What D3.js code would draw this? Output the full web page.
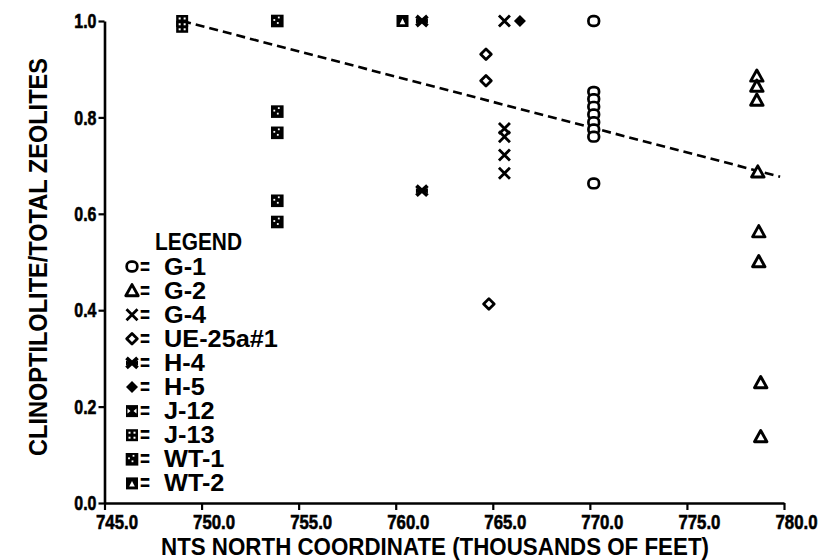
<!DOCTYPE html>
<html>
<head>
<meta charset="utf-8">
<script src="https://cdn.jsdelivr.net/npm/d3@7"></script>
<style>
  html, body { margin: 0; padding: 0; background: #fff; }
  svg { display: block; }
  .lbl { font-family: "Liberation Sans", Arial, Helvetica, sans-serif; font-weight: bold; fill: #000; }
</style>
</head>
<body>
<svg id="chart" width="820" height="560"></svg>
<script>
// ---- Data ----
const xTicks = [745, 750, 755, 760, 765, 770, 775, 780];
const yTicks = [0.0, 0.2, 0.4, 0.6, 0.8, 1.0];

const g1    = [[770.2, 1.0], [770.2, 0.853], [770.2, 0.838], [770.2, 0.822], [770.2, 0.806], [770.2, 0.790], [770.2, 0.775], [770.2, 0.760], [770.2, 0.663]];
const g2    = [[778.6, 0.886], [778.6, 0.865], [778.6, 0.836], [778.65, 0.687], [778.7, 0.563], [778.7, 0.501], [778.8, 0.250], [778.8, 0.138]];
const g4    = [[765.6, 1.0], [765.6, 0.777], [765.6, 0.760], [765.6, 0.722], [765.6, 0.684]];
const ue25  = [[764.65, 0.931], [764.65, 0.876], [764.8, 0.413]];
const h4    = [[761.35, 1.0], [761.35, 0.648]];
const h5    = [[766.4, 1.0]];
const j12   = [];
const j13   = [[749.0, 1.0], [749.0, 0.988]];
const wt1   = [[753.9, 1.0], [753.9, 0.812], [753.9, 0.768], [753.9, 0.627], [753.9, 0.583]];
const wt2   = [[760.35, 1.0]];

const trendX = [749.0, 779.8];
const trendY = [1.0, 0.677];

const legendNames = ["G-1", "G-2", "G-4", "UE-25a#1", "H-4", "H-5", "J-12", "J-13", "WT-1", "WT-2"];
const legendKinds = ["circle", "triangle", "x", "diamond", "star", "fdiamond", "j12", "j13", "wt1", "wt2"];
const seriesData  = [g1, g2, g4, ue25, h4, h5, j12, j13, wt1, wt2];

// ---- Layout ----
const svg = d3.select("#chart");
const x = d3.scaleLinear().domain([745, 780]).range([104.5, 784]);
const y = d3.scaleLinear().domain([0, 1]).range([503, 21]);

// squeeze/stretch text horizontally to mimic the condensed plotter lettering
function fit(sel, factor) {
  sel.each(function () {
    const w = this.getComputedTextLength();
    d3.select(this).attr("textLength", w * factor).attr("lengthAdjust", "spacingAndGlyphs");
  });
}

// ---- Symbols ----
function drawMark(g, kind) {
  const sw = 2.7;
  switch (kind) {
    case "circle":
      g.append("rect").attr("x", -5.3).attr("y", -4.8).attr("width", 10.6).attr("height", 9.6).attr("rx", 4.3)
        .attr("fill", "#fff").attr("stroke", "#000").attr("stroke-width", sw);
      break;
    case "triangle":
      g.append("path").attr("d", "M0,-6 L6.2,5.2 L-6.2,5.2 Z")
        .attr("fill", "#fff").attr("stroke", "#000").attr("stroke-width", 2.9).attr("stroke-linejoin", "round");
      break;
    case "x":
      g.append("path").attr("d", "M-5.5,-5.5 L5.5,5.5 M5.5,-5.5 L-5.5,5.5")
        .attr("fill", "none").attr("stroke", "#000").attr("stroke-width", 2.8);
      break;
    case "diamond":
      g.append("path").attr("d", "M0,-5.3 L5.3,0 L0,5.3 L-5.3,0 Z")
        .attr("fill", "#fff").attr("stroke", "#000").attr("stroke-width", 2.8).attr("stroke-linejoin", "round");
      break;
    case "star":
      g.append("path").attr("d", "M-5.5,-5 L5.5,5 M5.5,-5 L-5.5,5")
        .attr("fill", "none").attr("stroke", "#000").attr("stroke-width", 3.8);
      g.append("path").attr("d", "M-6,-2.5 L0,0 L-6,2.5 Z M6,-2.5 L0,0 L6,2.5 Z").attr("fill", "#000");
      break;
    case "fdiamond":
      g.append("path").attr("d", "M0,-6 L6,0 L0,6 L-6,0 Z").attr("fill", "#000");
      break;
    case "j12":
      g.append("rect").attr("x", -6).attr("y", -6).attr("width", 12).attr("height", 12).attr("fill", "#000");
      g.append("path").attr("d", "M-4.5,-2.5 L-1.5,0 L-4.5,2.5 Z M4.5,-2.5 L1.5,0 L4.5,2.5 Z").attr("fill", "#fff");
      break;
    case "j13":
      g.append("rect").attr("x", -6).attr("y", -6).attr("width", 12).attr("height", 12).attr("fill", "#000");
      [[-2.5, -2.5], [2.5, -2.5], [-2.5, 2.5], [2.5, 2.5]].forEach(p =>
        g.append("rect").attr("x", p[0] - 1).attr("y", p[1] - 1).attr("width", 2).attr("height", 2).attr("fill", "#fff"));
      break;
    case "wt1":
      g.append("rect").attr("x", -6.3).attr("y", -6.3).attr("width", 12.6).attr("height", 12.6).attr("fill", "#000");
      [[-3, -1], [1.5, -3.5], [0.5, 2]].forEach(p =>
        g.append("rect").attr("x", p[0] - 0.9).attr("y", p[1] - 0.9).attr("width", 1.8).attr("height", 1.8).attr("fill", "#fff"));
      break;
    case "wt2":
      g.append("rect").attr("x", -6).attr("y", -6).attr("width", 12).attr("height", 12).attr("fill", "#000");
      g.append("path").attr("d", "M0,-2.5 L2.8,3.2 L-2.8,3.2 Z").attr("fill", "#fff");
      break;
  }
}

// ---- Axes ----
const xAxis = d3.axisBottom(x).tickValues(xTicks).tickFormat(d3.format(".1f")).tickSize(7).tickSizeOuter(0).tickPadding(5);
const yAxis = d3.axisLeft(y).tickValues(yTicks).tickFormat(d3.format(".1f")).tickSize(6).tickSizeOuter(0).tickPadding(3);

const gx = svg.append("g").attr("transform", "translate(0,503)").call(xAxis);
gx.select(".domain").attr("stroke-width", 2.6).attr("stroke", "#000");
gx.selectAll(".tick line").attr("stroke-width", 2.2).attr("stroke", "#000");
gx.selectAll(".tick text").attr("class", "lbl").attr("font-size", 21)
  .attr("stroke", "#000").attr("stroke-width", 0.6)
  .attr("y", 11).attr("transform", "translate(12,0) scale(0.8,1)");

const gy = svg.append("g").attr("transform", "translate(104.5,0)").call(yAxis);
gy.select(".domain").attr("stroke-width", 2.6).attr("stroke", "#000");
gy.selectAll(".tick line").attr("stroke-width", 2.2).attr("stroke", "#000");
gy.selectAll(".tick text").attr("class", "lbl").attr("font-size", 21)
  .attr("stroke", "#000").attr("stroke-width", 0.6)
  .attr("x", 0).attr("transform", "translate(-8,0) scale(0.76,1)");

// ---- Axis titles ----
svg.append("text").attr("class", "lbl").attr("font-size", 23)
  .attr("text-anchor", "middle")
  .attr("x", 435).attr("y", 555)
  .attr("textLength", 548).attr("lengthAdjust", "spacingAndGlyphs")
  .text("NTS NORTH COORDINATE (THOUSANDS OF FEET)");

svg.append("text").attr("class", "lbl").attr("font-size", 25)
  .attr("text-anchor", "middle")
  .attr("transform", "translate(47,257) rotate(-90)")
  .attr("textLength", 398).attr("lengthAdjust", "spacingAndGlyphs")
  .text("CLINOPTILOLITE/TOTAL ZEOLITES");

// ---- Trend line ----
const line = d3.line().x(d => x(d[0])).y(d => y(d[1]));
svg.append("path")
  .datum(d3.zip(trendX, trendY))
  .attr("d", line)
  .attr("fill", "none").attr("stroke", "#000").attr("stroke-width", 2.6)
  .attr("stroke-dasharray", "9,5");

// ---- Points ----
seriesData.forEach((arr, i) => {
  svg.append("g").selectAll("g").data(arr).join("g")
    .attr("transform", d => `translate(${x(d[0])},${y(d[1])})`)
    .each(function () { drawMark(d3.select(this), legendKinds[i]); });
});

// ---- Legend ----
svg.append("text").attr("class", "lbl").attr("font-size", 24)
  .attr("x", 155).attr("y", 250)
  .attr("textLength", 87).attr("lengthAdjust", "spacingAndGlyphs")
  .text("LEGEND");

legendNames.forEach((name, i) => {
  const cy = 266.5 + i * 24.1;
  const g = svg.append("g").attr("transform", `translate(132,${cy})`);
  drawMark(g, legendKinds[i]);
  svg.append("text").attr("class", "lbl").attr("font-size", 23)
    .attr("x", 140).attr("y", cy + 8)
    .attr("textLength", 10).attr("lengthAdjust", "spacingAndGlyphs")
    .text("=");
  svg.append("text").attr("class", "lbl").attr("font-size", 23)
    .attr("x", 164).attr("y", cy + 8).text(name).call(fit, 1.1);
});
</script>
</body>
</html>
